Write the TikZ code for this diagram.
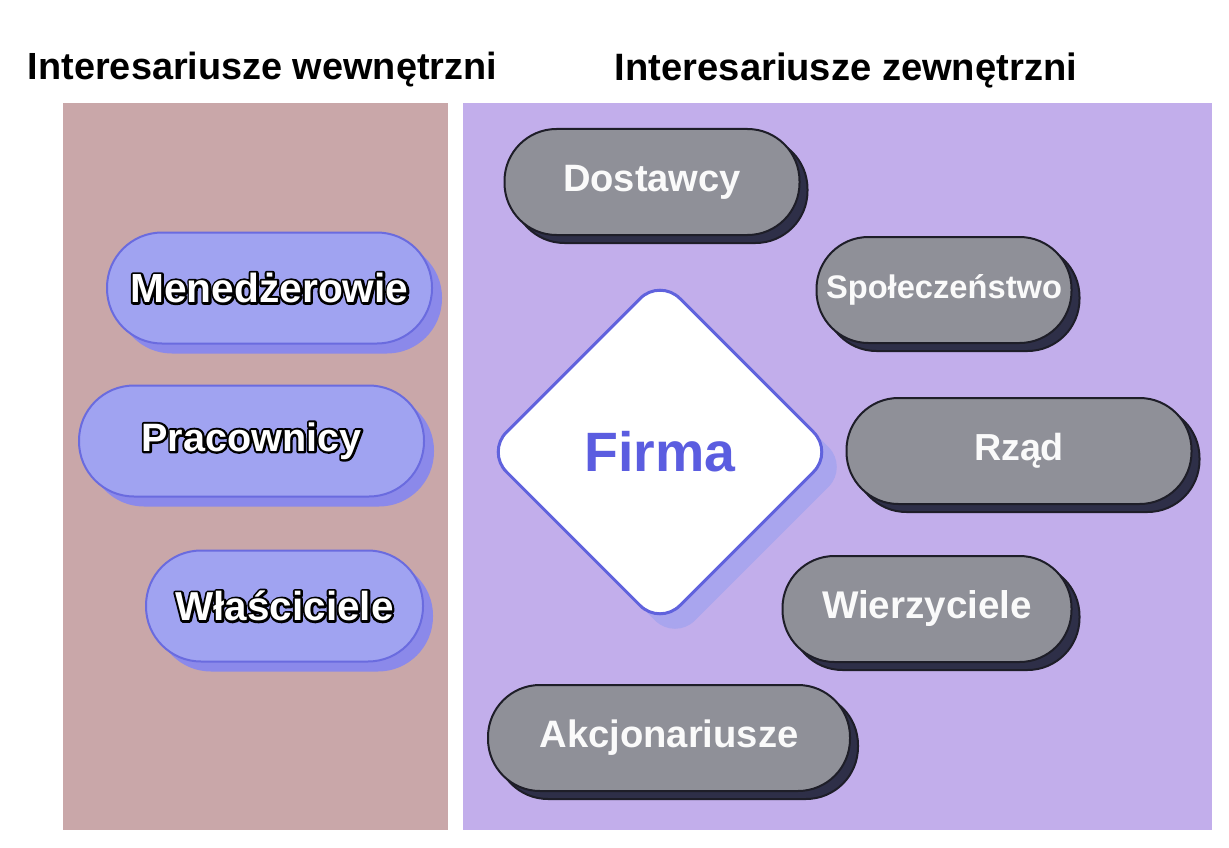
\documentclass[tikz,border=0pt]{standalone}
\usepackage{fontspec}
\setmainfont{Liberation Sans}
\usepackage{graphicx}
\usetikzlibrary{shapes.geometric,shadows}
\definecolor{leftpanel}{HTML}{C9A7A9}
\definecolor{rightpanel}{HTML}{C2AEEB}
\definecolor{bluefill}{HTML}{A0A3F1}
\definecolor{blueline}{HTML}{6A6BDF}
\definecolor{blueshadow}{HTML}{8B89EA}
\definecolor{grayfill}{HTML}{8F9098}
\definecolor{grayline}{HTML}{1E1E28}
\definecolor{grayshadow}{HTML}{2E2F48}
\definecolor{firmatext}{HTML}{5B5DE0}
\definecolor{firmaline}{HTML}{6062DD}
\definecolor{firmashadow}{HTML}{A9A5EE}
\newcommand{\fitw}[2]{\resizebox{#1pt}{!}{#2}}
\newcommand{\outlined}[1]{\rlap{\special{pdf:literal direct 1 Tr 0 0 0 RG 3.6 w 1 j}#1\special{pdf:literal direct 0 Tr}}#1}
\tikzset{
  title/.style={inner sep=0pt, text=black, font=\bfseries\fontsize{36}{42}\selectfont},
  bluepill/.style={rectangle, rounded corners=55pt, fill=bluefill, draw=blueline, line width=2pt,
    minimum height=111pt, inner sep=0pt, text=white, font=\bfseries\fontsize{32}{38}\selectfont,
    drop shadow={shadow xshift=10pt, shadow yshift=-10pt, fill=blueshadow, opacity=1, draw=none}},
  graypill/.style={rectangle, rounded corners=52pt, fill=grayfill, draw=grayline, line width=2pt,
    minimum height=106pt, inner sep=0pt, text=white!96!gray, font=\bfseries\fontsize{36}{42}\selectfont,
    drop shadow={shadow xshift=8pt, shadow yshift=-8pt, fill=grayshadow, opacity=1, draw=grayline}},
  firmabox/.style={diamond, aspect=1, rounded corners=28pt, fill=white, draw=firmaline, line width=3pt,
    minimum width=348pt, minimum height=348pt, inner sep=0pt, text=firmatext, font=\bfseries\fontsize{56}{64}\selectfont,
    drop shadow={shadow xshift=15pt, shadow yshift=-15pt, fill=firmashadow, opacity=1, draw=none}}
}
\begin{document}
\begin{tikzpicture}[x=1pt,y=-1pt]
\useasboundingbox (0,0) rectangle (1229,848);
\fill[white] (0,0) rectangle (1229,848);
% panels
\fill[leftpanel] (63,103) rectangle (448,830);
\fill[rightpanel] (463,103) rectangle (1212,830);
% titles
\node[title] (tl) at (262.5,70) {\fitw{469}{Interesariusze wewnętrzni}};
\node[title] (tr) at (846,70) {\fitw{462}{Interesariusze zewnętrzni}};
% internal stakeholders
\node[bluepill, minimum width=325pt] (men) at (269.5,288) {\fitw{278}{\outlined{Menedżerowie}}};
\node[bluepill, minimum width=345pt] (pra) at (251.5,441) {\fitw{220}{\outlined{Pracownicy}}};
\node[bluepill, minimum width=277pt] (wla) at (284.5,606) {\fitw{218}{\outlined{Właściciele}}};
% firm
\node[firmabox] (firma) at (660,452) {\fitw{151}{Firma}};
% external stakeholders
\node[graypill, minimum width=295pt] (dos) at (652,182) {\fitw{178}{Dostawcy}};
\node[graypill, minimum width=255pt] (spo) at (944,290) {\fitw{236}{Społeczeństwo}};
\node[graypill, minimum width=345pt] (rza) at (1019,451) {\fitw{90}{Rząd}};
\node[graypill, minimum width=289pt] (wie) at (927,609) {\fitw{210}{Wierzyciele}};
\node[graypill, minimum width=362pt] (akc) at (669,738) {\fitw{259}{Akcjonariusze}};
\end{tikzpicture}
\end{document}
